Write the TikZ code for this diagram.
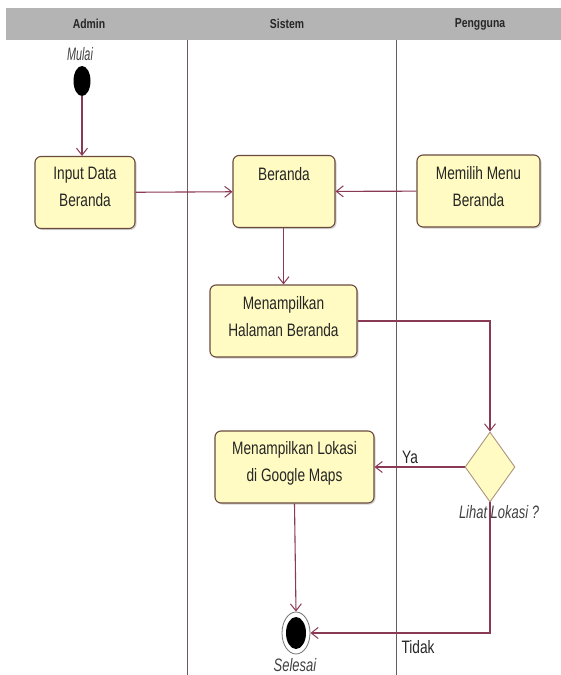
\documentclass[tikz,border=0pt]{standalone}
\usepackage{fontspec}
\setmainfont{Liberation Sans}
\newfontfamily\condfont[FakeStretch=0.76]{Liberation Sans}
\newfontfamily\condital[FakeStretch=0.72]{Liberation Sans Italic}
\newfontfamily\narrital[FakeStretch=0.6]{Liberation Sans Italic}
\newfontfamily\hdrfont[FakeStretch=0.8]{Liberation Sans Bold}
\usetikzlibrary{arrows.meta,shapes.geometric,shadows}
\definecolor{flow}{HTML}{8A3A55}
\definecolor{boxline}{HTML}{6A4A3C}
\definecolor{boxfill}{HTML}{FFFBC2}
\definecolor{band}{HTML}{B4B4B4}
\definecolor{lane}{HTML}{6A5A5A}
\tikzset{
  act/.style={draw=boxline, line width=1.1pt, fill=boxfill, rounded corners=6pt,
    minimum height=72pt, inner sep=0pt,
    drop shadow={shadow xshift=1.5pt, shadow yshift=-1.5pt, opacity=0.35}},
  acttext/.style={anchor=north, align=center, font=\condfont\fontsize{18}{27}\selectfont, text=black!85, inner sep=0pt},
  flowline/.style={draw=flow, line width=1.1pt, -{Straight Barb[length=7pt,width=11pt,line width=1pt]}},
  hdr/.style={font=\hdrfont\fontsize{13}{15}\selectfont, text=black!85},
  lbl/.style={font=\condfont\fontsize{18}{20}\selectfont, text=black!85},
  ilbl/.style={font=\condital\fontsize{18}{20}\selectfont, text=black!75},
}
\begin{document}
\begin{tikzpicture}[x=1pt,y=-1pt]
\useasboundingbox (0,0) rectangle (561,675);
% header band
\fill[band] (6,8) rectangle (561,40);
\node[hdr] (hA) at (89,24) {Admin};
\node[hdr] (hS) at (287,24) {Sistem};
\node[hdr] (hP) at (480,24) {Pengguna};
% lane lines
\draw[lane, line width=1pt] (187,40) -- (187,675);
\draw[lane, line width=1pt] (396,40) -- (396,675);
% start
\node[font=\narrital\fontsize{18}{20}\selectfont, text=black!75] (mulai) at (80,54) {Mulai};
\node[ellipse, fill=black, minimum width=17pt, minimum height=30pt, inner sep=0pt] (start) at (82,81) {};
% activities
\node[act, minimum width=100pt] (input) at (85,192.5) {};
\node[acttext] (inputt) at ([yshift=-11pt]input.north) {Input Data\\Beranda};
\node[act, minimum width=102pt] (beranda) at (284,191.5) {};
\node[acttext] (berandat) at ([yshift=-12pt]beranda.north) {Beranda};
\node[act, minimum width=123pt] (memilih) at (478.5,191) {};
\node[acttext] (memiliht) at ([yshift=-12pt]memilih.north) {Memilih Menu\\Beranda};
\node[act, minimum width=147pt] (halaman) at (283.5,321) {};
\node[acttext] (halamant) at ([yshift=-12pt]halaman.north) {Menampilkan\\Halaman Beranda};
\node[act, minimum width=159pt] (lokasi) at (294.5,467) {};
\node[acttext] (lokasit) at ([yshift=-11pt]lokasi.north) {Menampilkan Lokasi\\di Google Maps};
% decision
\node[diamond, draw=black!40!brown!60, line width=0.9pt, fill=boxfill, minimum width=50pt, minimum height=70pt, inner sep=0pt] (dec) at (490,467) {};
% end
\node[ellipse, draw=black!55, line width=0.8pt, fill=white, minimum width=28pt, minimum height=42pt, inner sep=0pt] (end) at (296,633) {};
\node[ellipse, fill=black, minimum width=20pt, minimum height=32pt, inner sep=0pt] (endin) at (296,633) {};
\node[ilbl] (selesai) at (295,665) {Selesai};
% flows
\draw[flowline] (start.south) -- (start.south |- input.north);
\draw[flowline] (input) -- (beranda);
\draw[flowline] (memilih) -- (beranda);
\draw[flowline] (beranda.south -| halaman.north) -- (halaman);
\draw[flowline] (halaman.east) -| (dec.north);
\draw[flowline] (dec.west) -- (lokasi.east);
\node[lbl] (ya) at (410,457) {Ya};
\draw[flowline] (lokasi.south) -- (end.north);
\draw[flowline] (dec.south) |- (end.east);
\node[lbl] (tidak) at (418,647) {Tidak};
\node[ilbl] (dect) at (499,512) {Lihat Lokasi ?};
\end{tikzpicture}
\end{document}
